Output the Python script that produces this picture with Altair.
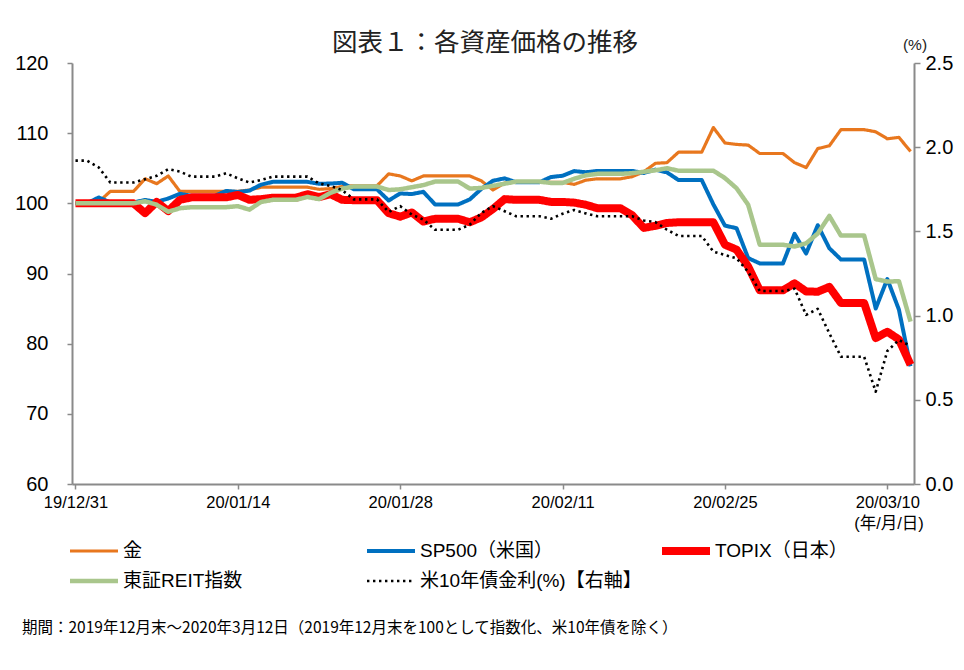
import json
import altair as alt
import pandas as pd

# ---- data (calendar days from 2019-12-31 to 2020-03-12; index 2019/12/31 = 100) ----
dates = pd.date_range("2019-12-31", "2020-03-12", freq="D")
tick_days = [0, 14, 28, 42, 56, 70]
tick_labels = ["19/12/31", "20/01/14", "20/01/28", "20/02/11", "20/02/25", "20/03/10"]
left_ticks = [60, 70, 80, 90, 100, 110, 120]
right_ticks = [0.0, 0.5, 1.0, 1.5, 2.0, 2.5]

gold = [100.0, 100.0, 100.2, 101.7, 101.7, 101.7, 103.5, 102.8, 103.9, 101.7,
        101.7, 101.7, 101.7, 101.7, 101.7, 101.9, 102.3, 102.3, 102.3, 102.3,
        102.3, 102.0, 102.1, 102.4, 102.5, 102.5, 102.5, 104.2, 103.9, 103.2,
        103.9, 103.9, 103.9, 103.9, 103.9, 103.2, 101.9, 102.9, 103.1, 103.1,
        103.1, 103.0, 103.0, 102.7, 103.3, 103.5, 103.5, 103.5, 103.8, 104.5,
        105.7, 105.8, 107.3, 107.3, 107.3, 110.8, 108.6, 108.4, 108.3, 107.1,
        107.1, 107.1, 105.8, 105.1, 107.8, 108.2, 110.5, 110.5, 110.5, 110.2,
        109.2, 109.4, 107.4]
sp500 = [100.0, 100.0, 100.84, 100.13, 100.13, 100.13, 100.48, 100.2, 100.69, 101.36,
         101.07, 101.07, 101.07, 101.77, 101.62, 101.81, 102.66, 103.06, 103.06, 103.06,
         103.06, 102.79, 102.82, 102.93, 102.0, 102.0, 102.0, 100.4, 101.41, 101.32,
         101.64, 99.84, 99.84, 99.84, 100.56, 102.07, 103.22, 103.56, 103.0, 103.0,
         103.0, 103.75, 103.93, 104.6, 104.43, 104.62, 104.62, 104.62, 104.62, 104.32,
         104.81, 104.41, 103.31, 103.31, 103.31, 99.85, 96.82, 96.46, 92.2, 91.44,
         91.44, 91.44, 95.65, 92.84, 96.88, 93.6, 92.0, 92.0, 92.0, 85.01,
         89.21, 84.85, 76.78]
topix = [100.0, 100.0, 100.0, 100.0, 100.0, 100.0, 98.6, 100.2, 98.9, 100.5,
         100.85, 100.85, 100.85, 100.85, 101.2, 100.5, 100.6, 100.8, 100.8, 100.8,
         101.3, 100.9, 101.3, 100.5, 100.45, 100.45, 100.45, 98.6, 98.1, 98.7,
         97.4, 97.8, 97.8, 97.8, 97.3, 98.0, 99.2, 100.6, 100.5, 100.5,
         100.5, 100.2, 100.2, 100.1, 99.8, 99.3, 99.3, 99.3, 98.3, 96.5,
         96.8, 97.2, 97.3, 97.3, 97.3, 97.3, 94.1, 93.4, 91.0, 87.6,
         87.6, 87.6, 88.6, 87.45, 87.4, 88.1, 85.8, 85.8, 85.8, 80.8,
         81.7, 80.6, 77.0]
reit = [100.0, 100.0, 100.0, 100.0, 100.0, 100.0, 100.3, 99.8, 98.8, 99.3,
        99.45, 99.45, 99.45, 99.45, 99.6, 99.1, 100.2, 100.5, 100.5, 100.5,
        100.9, 100.6, 101.5, 102.1, 102.4, 102.4, 102.4, 101.9, 102.0, 102.3,
        102.6, 103.1, 103.1, 103.1, 102.1, 102.2, 102.5, 102.8, 103.1, 103.1,
        103.1, 102.9, 102.9, 103.5, 104.0, 104.2, 104.2, 104.2, 104.3, 104.5,
        104.7, 105.0, 104.65, 104.65, 104.65, 104.65, 103.6, 102.15, 99.8, 94.1,
        94.1, 94.1, 93.85, 94.3, 95.7, 98.2, 95.4, 95.4, 95.4, 89.2,
        88.85, 88.9, 83.15]
ust10 = [1.92, 1.92, 1.88, 1.79, 1.79, 1.79, 1.81, 1.83, 1.87, 1.855,
         1.825, 1.825, 1.825, 1.845, 1.815, 1.79, 1.805, 1.825, 1.825, 1.825,
         1.825, 1.785, 1.77, 1.745, 1.69, 1.69, 1.69, 1.615, 1.65, 1.60,
         1.57, 1.51, 1.51, 1.51, 1.54, 1.61, 1.65, 1.62, 1.59, 1.59,
         1.59, 1.575, 1.605, 1.627, 1.607, 1.59, 1.59, 1.59, 1.59, 1.565,
         1.555, 1.51, 1.473, 1.473, 1.473, 1.38, 1.36, 1.34, 1.26, 1.146,
         1.146, 1.146, 1.16, 1.004, 1.04, 0.895, 0.756, 0.756, 0.756, 0.548,
         0.79, 0.855, 0.82]

names = ["金", "SP500（米国）", "TOPIX（日本）", "東証REIT指数", "米10年債金利(%)【右軸】"]
colors = ["#E8771E", "#0070C0", "#FF0000", "#A9C68C", "#000000"]
widths = [3.2, 4, 8, 4.5, 2.6]
dashes = [[1, 0], [1, 0], [1, 0], [1, 0], [2.4, 3.6]]

title_text = "図表１：各資産価格の推移"
pct_text = "(%)"
unit_text = "(年/月/日)"
foot_text = "期間：2019年12月末～2020年3月12日（2019年12月末を100として指数化、米10年債を除く）"

FONT = "'Liberation Sans', 'Noto Sans CJK JP', sans-serif"
CJK = "'Noto Sans CJK JP', sans-serif"


def frame(values, name):
    return pd.DataFrame({
        "day": [(d - dates[0]).days for d in dates],
        "value": values,
        "series": name,
    })


label_expr = json.dumps(tick_labels) + "[round(datum.value / 14)]"
x_enc = alt.X(
    "day:Q",
    scale=alt.Scale(domain=[-0.3, 72.3], nice=False, zero=False),
    axis=alt.Axis(values=tick_days, labelExpr=label_expr, title=None,
                  tickSize=5, labelPadding=5, labelFontSize=16.5),
)
color_enc = alt.Color("series:N", scale=alt.Scale(domain=names, range=colors), legend=None)
dash_enc = alt.StrokeDash("series:N", scale=alt.Scale(domain=names, range=dashes), legend=None)
width_enc = alt.StrokeWidth("series:N",
                            scale=alt.Scale(type="ordinal", domain=names, range=widths),
                            legend=None)

y_left = alt.Y(
    "value:Q",
    scale=alt.Scale(domain=[60, 120], nice=False, zero=False),
    axis=alt.Axis(values=left_ticks, title=None, tickSize=5, labelPadding=19,
                  labelFontSize=20),
)
y_right = alt.Y(
    "value:Q",
    scale=alt.Scale(domain=[0, 2.5], nice=False),
    axis=alt.Axis(values=right_ticks, format=".1f", orient="right", title=None,
                  tickSize=6, labelPadding=5, labelFontSize=20),
)


def line(values, name, y_enc):
    return alt.Chart(frame(values, name)).mark_line(strokeJoin="round").encode(
        x=x_enc, y=y_enc, color=color_enc, strokeDash=dash_enc, strokeWidth=width_enc
    )


def label(text, x, y, size, font=CJK, align="center", color="#222"):
    return alt.Chart(pd.DataFrame({"t": [text]})).mark_text(
        align=align, baseline="middle", fontSize=size, font=font, color=color
    ).encode(text="t:N", x=alt.value(x), y=alt.value(y))


# ---- hand-placed legend (3 columns, 2 rows) ----
LEG_COL_X = [-2, 295, 590]
LEG_ROW_Y = [488, 518]
LEG_SYMBOL = 48


def legend_entry(i):
    name = names[i]
    x0 = LEG_COL_X[i % 3]
    y0 = LEG_ROW_Y[i // 3]
    swatch = alt.Chart(pd.DataFrame({"series": [name]})).mark_rule().encode(
        x=alt.value(x0), x2=alt.value(x0 + LEG_SYMBOL), y=alt.value(y0),
        color=color_enc, strokeDash=dash_enc, strokeWidth=width_enc,
    )
    text = label(name, x0 + LEG_SYMBOL + 5, y0, 19, font=FONT, align="left", color="#000")
    return [swatch, text]


legend_layers = [layer for i in range(len(names)) for layer in legend_entry(i)]

left = alt.layer(
    line(gold, names[0], y_left),
    line(sp500, names[1], y_left),
    line(topix, names[2], y_left),
    line(reit, names[3], y_left),
    label(title_text, 413, -20, 25.5),
    label(pct_text, 843, -18, 15.5, font=FONT),
    label(unit_text, 817, 461, 16.5, font=FONT, color="#000"),
    label(foot_text, -50, 565, 15.5, align="left", color="#000"),
    *legend_layers,
)
right = line(ust10, names[4], y_right)

chart = alt.layer(left, right).resolve_scale(y="independent").properties(
    width=842, height=421, autosize="none",
    padding={"left": 64, "top": 55, "right": 42, "bottom": 170},
).configure_view(stroke=None).configure_axis(
    domainColor="#8a8a8a", domainWidth=2, tickColor="#8a8a8a", tickWidth=1.5,
    labelFont=FONT, labelColor="#000", grid=False,
)

chart.save("out.html", embed_options={"renderer": "svg", "actions": False})
